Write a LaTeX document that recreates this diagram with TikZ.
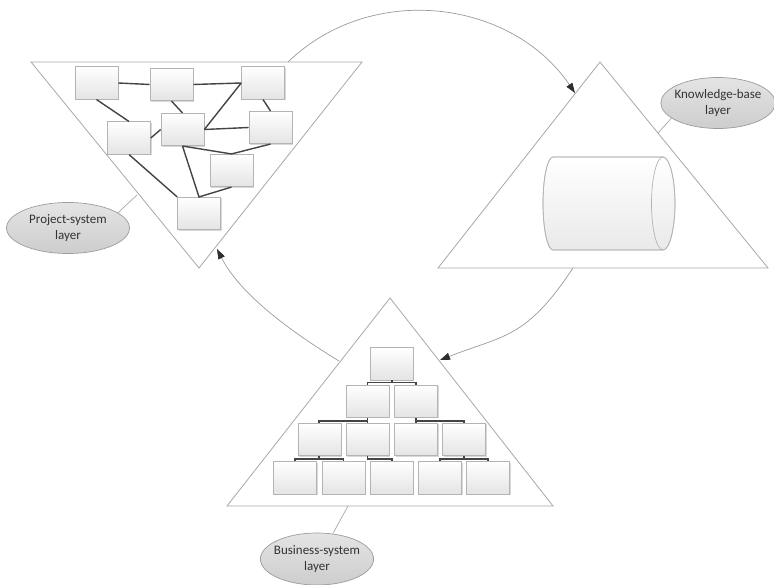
\documentclass[tikz,border=0pt]{standalone}
\usepackage{fontspec}
\setmainfont{Carlito}
\usetikzlibrary{shapes.geometric,arrows.meta,shadows,calc}
\definecolor{edgegray}{HTML}{A8A8A8}
\definecolor{arcgray}{HTML}{9A9A9A}
\definecolor{arrowgray}{HTML}{2E2E2E}
\definecolor{boxborder}{HTML}{B4B4B4}
\definecolor{boxbottom}{HTML}{E4E4E4}
\definecolor{linkgray}{HTML}{444444}
\definecolor{lblborder}{HTML}{9C9C9C}
\definecolor{lbltop}{HTML}{E4E4E4}
\definecolor{lblbottom}{HTML}{CDCDCD}
\definecolor{textgray}{HTML}{333333}
\begin{document}
\begin{tikzpicture}[x=1pt,y=-1pt,
  tri/.style={draw=edgegray, line width=0.8pt, fill=white, line join=miter},
  box/.style={draw=boxborder, line width=0.6pt, top color=white, bottom color=boxbottom,
    minimum width=43pt, minimum height=32.5pt, inner sep=0pt,
    drop shadow={shadow xshift=1pt, shadow yshift=-1pt, fill=gray, opacity=0.3}},
  link/.style={draw=linkgray, line width=1.4pt},
  bracket/.style={draw=linkgray, line width=1.7pt},
  flow/.style={draw=arcgray, line width=0.7pt, -{Triangle[length=10pt,width=7pt,color=arrowgray]}},
  tie/.style={draw=edgegray, line width=0.7pt},
  cyl/.style={draw=boxborder, line width=0.7pt, line join=round},
  lbl/.style={ellipse, draw=lblborder, line width=0.7pt, top color=lbltop, bottom color=lblbottom,
    align=center, text=textgray, inner sep=-3pt,
    font=\fontsize{13}{15.5}\selectfont}
]
\useasboundingbox (0,0) rectangle (774,585);

% ---------- triangles ----------
\coordinate (p1) at (31,62);  \coordinate (p2) at (362,62);  \coordinate (p3) at (199,268);
\coordinate (k1) at (600,62); \coordinate (k2) at (438,268); \coordinate (k3) at (768,268);
\coordinate (b1) at (390,298); \coordinate (b2) at (227,506); \coordinate (b3) at (553,506);
\draw[tri] (p1) -- (p2) -- (p3) -- cycle;
\draw[tri] (k1) -- (k2) -- (k3) -- cycle;
\draw[tri] (b1) -- (b2) -- (b3) -- cycle;

% ---------- flow arcs ----------
\coordinate (a1s) at (288,62);  \coordinate (a1e) at (575,93);
\coordinate (a2s) at (573,268); \coordinate (a2e) at (440,360);
\coordinate (a3s) at (339,361); \coordinate (a3e) at (217,249);
\draw[flow] (a1s) .. controls (372,-19) and (512,0) .. (a1e);
\draw[flow] (a2s) .. controls (526,339) and (504,335) .. (a2e);
\draw[flow] (a3s) .. controls (280,325) and (238,290) .. (a3e);

% ---------- project-system network ----------
\node[box] (A) at (96.5,83) {};
\node[box] (B) at (171.5,84.5) {};
\node[box] (C) at (263,83) {};
\node[box] (D) at (129,138) {};
\node[box] (E) at (182.5,129.5) {};
\node[box] (F) at (270.5,127.5) {};
\node[box] (G) at (231.5,170.5) {};
\node[box] (H) at (199,213.5) {};
\draw[link] (A.east) -- (B.west);
\draw[link] (B.east) -- (C.west);
\draw[link] (A.south) -- (D.north);
\draw[link] (B.south) -- (E.north);
\draw[link] (C.west) -- (E.east);
\draw[link] (E.east) -- (F.west);
\draw[link] (C.south) -- (F.north);
\draw[link] (D.east) -- (E.west);
\draw[link] (D.south) -- (H.north west);
\draw[link] (E.south) -- (G.north) -- (F.south);
\draw[link] (E.south) -- (H.north) -- (G.south);

% ---------- knowledge base (cylinder) ----------
\shade[top color=white, bottom color=boxbottom!80, cyl]
  (553,157) -- (663,157)
  .. controls (669.35,157) and (675,177.8) .. (675,203.5)
  .. controls (675,229.2) and (669.35,250) .. (663,250)
  -- (553,250)
  .. controls (547.5,250) and (543,229.2) .. (543,203.5)
  .. controls (543,177.8) and (547.5,157) .. (553,157) -- cycle;
\draw[cyl] (553,157) -- (663,157)
  .. controls (669.35,157) and (675,177.8) .. (675,203.5)
  .. controls (675,229.2) and (669.35,250) .. (663,250)
  -- (553,250)
  .. controls (547.5,250) and (543,229.2) .. (543,203.5)
  .. controls (543,177.8) and (547.5,157) .. (553,157) -- cycle;
\draw[cyl] (663,157) .. controls (656.65,157) and (651.5,177.8) .. (651.5,203.5)
  .. controls (651.5,229.2) and (656.65,250) .. (663,250);

% ---------- business pyramid ----------
\node[box] (r0) at (391.7,363.7) {};
\node[box] (r1a) at (367.5,401.2) {};
\node[box] (r1b) at (416,401.2) {};
\node[box] (r2a) at (319.3,439.5) {};
\node[box] (r2b) at (367.5,439.5) {};
\node[box] (r2c) at (416,439.5) {};
\node[box] (r2d) at (464,439.5) {};
\node[box] (r3a) at (295,477.8) {};
\node[box] (r3b) at (343.5,477.8) {};
\node[box] (r3c) at (391.7,477.8) {};
\node[box] (r3d) at (440,477.8) {};
\node[box] (r3e) at (488,477.8) {};

\newcommand\orgtwo[3]{%
  \coordinate (bl) at ([yshift=2.2pt]#2.north);
  \coordinate (br) at ([yshift=2.2pt]#3.north);
  \draw[bracket] (#2.north) -- (bl) -- (br) -- (#3.north);
  \draw[bracket] (#1.south) -- (#1.south |- bl);}
\orgtwo{r0}{r1a}{r1b}
\orgtwo{r1a}{r2a}{r2b}
\orgtwo{r1b}{r2c}{r2d}
\orgtwo{r2a}{r3a}{r3b}
\orgtwo{r2d}{r3d}{r3e}
\coordinate (bc) at ([yshift=2.2pt]r3c.north);
\draw[bracket] (r2b.south) -- (r2b.south |- bc) -- (bc) -- (r3c.north);

% ---------- labels ----------
\node[lbl, minimum width=123pt, minimum height=51pt] (PS) at (68,228) {Project-system\\layer};
\node[lbl, minimum width=110pt, minimum height=51pt] (KB) at (718,103) {Knowledge-base\\layer};
\node[lbl, minimum width=110pt, minimum height=52pt] (BS) at (317,559) {Business-system\\layer};
\coordinate (t1) at (137,195);
\coordinate (t2) at (658,133);
\coordinate (t3) at (348,506);
\draw[tie] (t1) -- (PS.17);
\draw[tie] (t2) -- (KB.198);
\draw[tie] (t3) -- (BS.58);
\end{tikzpicture}
\end{document}
